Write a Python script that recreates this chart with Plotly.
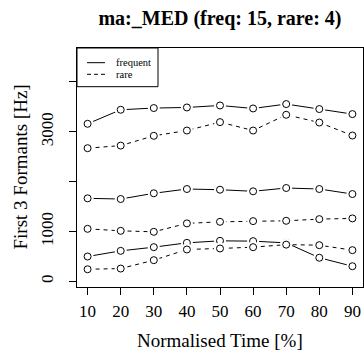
import plotly.graph_objects as go

time_pct = [10, 20, 30, 40, 50, 60, 70, 80, 90]

freq_F1 = [497, 610, 684, 771, 811, 805, 770, 472, 302]
freq_F2 = [1664, 1650, 1765, 1851, 1837, 1805, 1871, 1851, 1750]
freq_F3 = [3159, 3441, 3475, 3487, 3527, 3467, 3555, 3455, 3354]

rare_F1 = [241, 255, 423, 638, 658, 684, 735, 724, 624]
rare_F2 = [1052, 1012, 992, 1161, 1193, 1207, 1213, 1247, 1261]
rare_F3 = [2670, 2722, 2918, 3024, 3193, 3024, 3340, 3185, 2924]

y_tick_vals = [0, 1000, 2000, 3000, 4000]
y_tick_text = ["0", "1000", "", "3000", ""]
x_tick_vals = [10, 20, 30, 40, 50, 60, 70, 80, 90]

legend_names = ["frequent", "rare"]
legend_dashes = ["solid", "4px,3px"]

FONT = "Liberation Serif"

W, H = 364, 351
L, R, T, B = 77, 1, 48, 64
PW, PH = W - L - R, H - T - B


def px_x(px):
    return (px - L) / PW


def px_y(py):
    return (H - B - py) / PH


fig = go.Figure()

series = [
    ("frequent", "solid", freq_F1),
    ("frequent", "solid", freq_F2),
    ("frequent", "solid", freq_F3),
    ("rare", "4px,4px", rare_F1),
    ("rare", "4px,4px", rare_F2),
    ("rare", "4px,4px", rare_F3),
]

for name, dash, vals in series:
    fig.add_trace(go.Scatter(x=time_pct, y=vals, mode="lines",
                             line=dict(color="black", width=1, dash=dash),
                             showlegend=False, hoverinfo="skip"))
    # white mask to create gaps around points (R type="b")
    fig.add_trace(go.Scatter(x=time_pct, y=vals, mode="markers",
                             marker=dict(symbol="circle", size=12, color="white",
                                         line=dict(width=0)),
                             showlegend=False, hoverinfo="skip"))
    fig.add_trace(go.Scatter(x=time_pct, y=vals, mode="markers", name=name,
                             marker=dict(symbol="circle-open", size=7, color="black",
                                         line=dict(width=1, color="black")),
                             showlegend=False))

# legend box drawn in paper space (R-style legend at top-left)
shapes = [dict(type="rect", xref="paper", yref="paper",
               x0=px_x(77), x1=px_x(158), y0=px_y(86.7), y1=px_y(48),
               line=dict(color="black", width=1), fillcolor="white", layer="above")]
annotations = []
for i, (nm, ds) in enumerate(zip(legend_names, legend_dashes)):
    yy = px_y(62.7 + i * 11.6)
    shapes.append(dict(type="line", xref="paper", yref="paper",
                       x0=px_x(87), x1=px_x(105), y0=yy, y1=yy,
                       line=dict(color="black", width=1, dash=ds), layer="above"))
    annotations.append(dict(text=nm, xref="paper", yref="paper", x=px_x(114), y=yy,
                            xanchor="left", yanchor="middle", showarrow=False,
                            font=dict(family=FONT, size=10.5, color="black")))

annotations += [
    dict(text="Normalised Time [%]", xref="paper", yref="paper", x=0.5,
         y=px_y(340.5), xanchor="center", yanchor="middle",
         showarrow=False, font=dict(family=FONT, size=19)),
    dict(text="First 3 Formants [Hz]", xref="paper", yref="paper",
         x=px_x(20), y=0.5, xanchor="center", yanchor="middle",
         textangle=-90, showarrow=False, font=dict(family=FONT, size=19)),
]

fig.update_layout(
    width=W, height=H,
    margin=dict(l=L, r=R, t=T, b=B, autoexpand=False),
    paper_bgcolor="white", plot_bgcolor="white",
    font=dict(family=FONT, color="black", size=16),
    showlegend=False,
    title=dict(text="<b>ma:_MED (freq: 15, rare: 4)</b>", x=0.5, xref="paper",
               y=1 - 18 / H, yref="container", xanchor="center", yanchor="middle",
               font=dict(family=FONT, size=20, color="black")),
    xaxis=dict(range=[6.8, 93.2], tickvals=x_tick_vals, ticks="outside", ticklen=7,
               tickcolor="black", showline=True, linecolor="black", linewidth=1,
               mirror=True, showgrid=False, zeroline=False, ticklabelstandoff=2,
               tickfont=dict(family=FONT, size=17)),
    yaxis=dict(range=[-115, 4680], tickvals=y_tick_vals, ticktext=y_tick_text,
               ticks="outside", ticklen=7, tickcolor="black", tickangle=-90,
               showline=True, linecolor="black", linewidth=1, mirror=True,
               showgrid=False, zeroline=False, ticklabelstandoff=9,
               tickfont=dict(family=FONT, size=17)),
    shapes=shapes,
    annotations=annotations,
)

fig.write_html("out.html")
